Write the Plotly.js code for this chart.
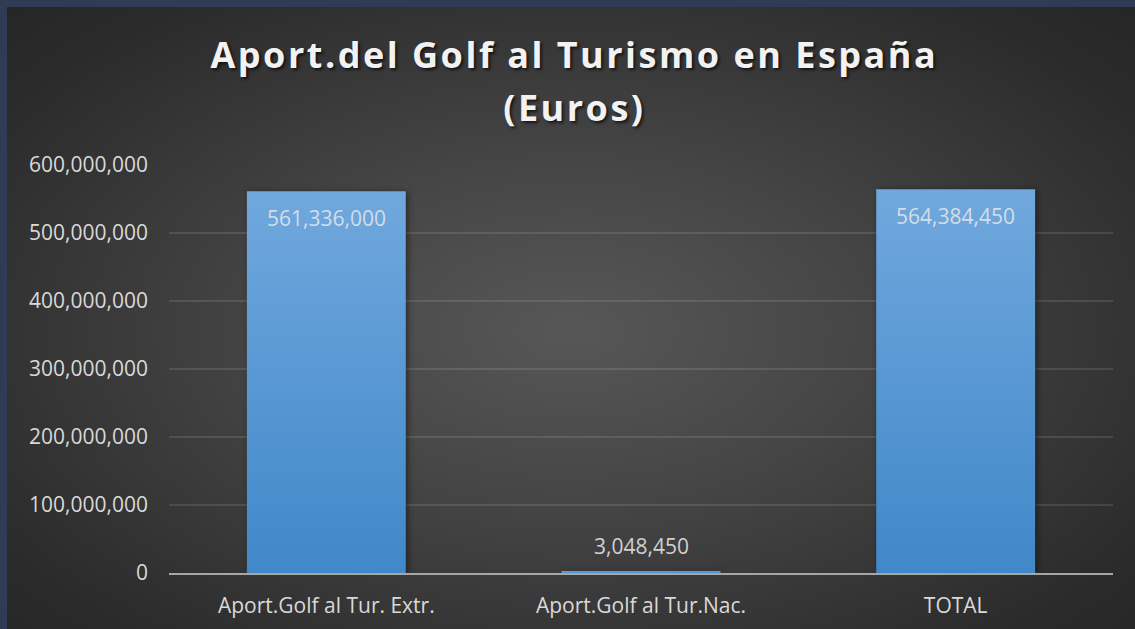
<!DOCTYPE html>
<html>
<head>
<meta charset="utf-8">
<script src="https://cdn.plot.ly/plotly-3.0.1.min.js"></script>
<style>
  html, body { margin: 0; padding: 0; width: 1135px; height: 629px; overflow: hidden; background: #2f3c53; }
  #chart {
    position: absolute; left: 7px; top: 7px; width: 1128px; height: 622px;
    background: radial-gradient(ellipse farthest-corner at 50% 52%, #575757 0%, #454545 38%, #2b2b2b 85%, #262626 100%);
  }
  #chart .gtitle { letter-spacing: 2.5px; }
  #chart .bars .point path { filter: drop-shadow(2px 1px 3px rgba(0,0,0,0.45)); }
</style>
</head>
<body>
<div id="chart"></div>
<script>
const categories = ['Aport.Golf al Tur. Extr.', 'Aport.Golf al Tur.Nac.', 'TOTAL'];
const values = [561336000, 3048450, 564384450];
const yTickVals = [0, 100000000, 200000000, 300000000, 400000000, 500000000, 600000000];
const titleText = 'Aport.del Golf al Turismo en España<br>(Euros)';

const FONT = '"Open Sans", "DejaVu Sans", sans-serif';
const yMax = 600000000;

const annotations = values.map((v, i) => {
  const inside = v > yMax * 0.1;
  return {
    x: categories[i], y: v, xref: 'x', yref: 'y',
    text: v.toLocaleString('en-US'),
    showarrow: false,
    yshift: inside ? -27 : 25,
    font: { family: FONT, size: 21, color: inside ? '#d4dde6' : '#d0d0d0' }
  };
});

const trace = {
  type: 'bar',
  x: categories,
  y: values,
  marker: { color: '#5898d3', line: { width: 0 } },
  hoverinfo: 'x+y'
};

const layout = {
  width: 1128, height: 622,
  paper_bgcolor: 'rgba(0,0,0,0)',
  plot_bgcolor: 'rgba(0,0,0,0)',
  margin: { l: 162, r: 22, t: 158, b: 56, pad: 0 },
  bargap: 0.495,
  showlegend: false,
  title: {
    text: titleText,
    font: { family: FONT, size: 36, color: '#f2f2f2', weight: 700, shadow: '2px 2px 3px rgba(0,0,0,0.65)' },
    x: 0.503, xref: 'container', xanchor: 'center',
    y: 0.902, yref: 'container', yanchor: 'top'
  },
  xaxis: {
    type: 'category',
    showgrid: false,
    showline: true, linecolor: '#a6a6a6', linewidth: 2,
    ticks: '',
    tickfont: { family: FONT, size: 21, color: '#d9d9d9' },
    ticklabelstandoff: 13,
    zeroline: false
  },
  yaxis: {
    range: [0, yMax],
    tickvals: yTickVals,
    tickformat: ',d',
    showgrid: true, gridcolor: 'rgba(255,255,255,0.11)', gridwidth: 1.5,
    zeroline: false, showline: false,
    ticks: '',
    tickfont: { family: FONT, size: 21, color: '#d9d9d9' },
    ticklabelstandoff: 20
  },
  annotations: annotations
};

Plotly.newPlot('chart', [trace], layout, { displayModeBar: false, staticPlot: true }).then(gd => {
  const svg = gd.querySelector('svg.main-svg');
  const ns = 'http://www.w3.org/2000/svg';
  let defs = svg.querySelector('defs');
  if (!defs) { defs = document.createElementNS(ns, 'defs'); svg.insertBefore(defs, svg.firstChild); }
  const grad = document.createElementNS(ns, 'linearGradient');
  grad.setAttribute('id', 'barGrad');
  grad.setAttribute('x1', '0'); grad.setAttribute('y1', '0');
  grad.setAttribute('x2', '0'); grad.setAttribute('y2', '1');
  [['0%', '#70a8dd'], ['100%', '#4088c9']].forEach(([o, c]) => {
    const s = document.createElementNS(ns, 'stop');
    s.setAttribute('offset', o); s.setAttribute('stop-color', c);
    grad.appendChild(s);
  });
  defs.appendChild(grad);
  gd.querySelectorAll('.bars .point path').forEach(p => { p.style.fill = 'url(#barGrad)'; });
  const lines = gd.querySelectorAll('.gtitle tspan.line');
  if (lines.length > 1) lines[1].setAttribute('dy', '1.47em');
});
</script>
</body>
</html>
